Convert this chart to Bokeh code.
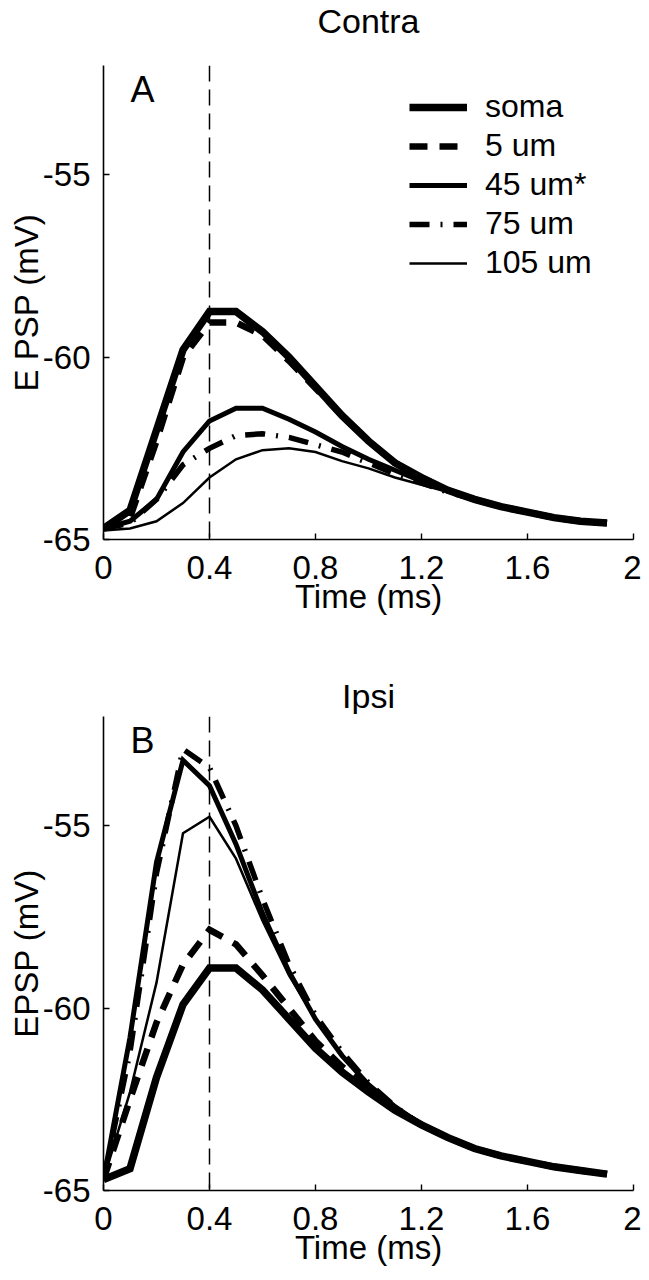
from bokeh.plotting import figure
from bokeh.models import Span, Legend, LegendItem, Label, FixedTicker, Range1d
from bokeh.core.properties import value
from bokeh.layouts import column
from bokeh.embed import file_html
from bokeh.resources import INLINE

FONT = "Liberation Sans"

t = [0.0, 0.1, 0.2, 0.3, 0.4, 0.5, 0.6, 0.7, 0.8, 0.9,
     1.0, 1.1, 1.2, 1.3, 1.4, 1.5, 1.6, 1.7, 1.8, 1.9]

labels = ["soma", "5 um", "45 um*", "75 um", "105 um"]

# Panel A (Contra)
somaA = [-64.7, -64.2, -62.0, -59.8, -58.75, -58.75, -59.3, -60.0, -60.8, -61.6,
         -62.3, -62.9, -63.3, -63.65, -63.9, -64.1, -64.25, -64.4, -64.5, -64.55]
um5A = [-64.7, -64.4, -62.3, -60.0, -59.05, -59.05, -59.4, -60.1, -60.85, -61.6,
        -62.3, -62.9, -63.3, -63.65, -63.9, -64.1, -64.25, -64.4, -64.5, -64.55]
um45A = [-64.7, -64.5, -63.9, -62.6, -61.75, -61.4, -61.4, -61.7, -62.05, -62.45,
         -62.8, -63.1, -63.4, -63.65, -63.9, -64.1, -64.25, -64.4, -64.5, -64.55]
um75A = [-64.7, -64.55, -63.9, -62.95, -62.5, -62.15, -62.1, -62.2, -62.4, -62.6,
         -62.9, -63.2, -63.45, -63.7, -63.9, -64.1, -64.25, -64.4, -64.5, -64.55]
um105A = [-64.75, -64.7, -64.5, -64.0, -63.3, -62.8, -62.55, -62.5, -62.6, -62.85,
          -63.05, -63.3, -63.5, -63.7, -63.9, -64.1, -64.25, -64.4, -64.5, -64.55]

# Panel B (Ipsi)
somaB = [-64.7, -64.4, -61.9, -59.9, -58.9, -58.9, -59.5, -60.3, -61.1, -61.75,
         -62.3, -62.8, -63.2, -63.55, -63.85, -64.05, -64.2, -64.35, -64.45, -64.55]
um5B = [-64.7, -62.5, -60.4, -58.8, -57.85, -58.25, -59.1, -60.0, -60.9, -61.6,
        -62.2, -62.75, -63.2, -63.55, -63.85, -64.05, -64.2, -64.35, -64.45, -64.55]
um45B = [-64.7, -60.8, -56.0, -53.2, -53.9, -55.5, -57.4, -59.0, -60.3, -61.3,
         -62.1, -62.7, -63.2, -63.55, -63.85, -64.05, -64.2, -64.35, -64.45, -64.55]
um75B = [-64.7, -61.2, -56.3, -52.9, -53.4, -55.0, -57.0, -58.8, -60.2, -61.2,
         -62.05, -62.7, -63.2, -63.55, -63.85, -64.05, -64.2, -64.35, -64.45, -64.55]
um105B = [-64.7, -62.3, -59.3, -55.2, -54.75, -55.9, -57.6, -59.1, -60.3, -61.3,
          -62.1, -62.7, -63.2, -63.55, -63.85, -64.05, -64.2, -64.35, -64.45, -64.55]

x_ticks = [0, 0.4, 0.8, 1.2, 1.6, 2]
x_tick_labels = {0: "0", 0.4: "0.4", 0.8: "0.8", 1.2: "1.2", 1.6: "1.6", 2: "2"}
y_ticks = [-65, -60, -55]
y_tick_labels = {-65: "-65", -60: "-60", -55: "-55"}

styles = [
    dict(line_width=7.5, line_dash="solid"),
    dict(line_width=6.5, line_dash="18 12"),
    dict(line_width=5, line_dash="solid"),
    dict(line_width=5.5, line_dash="20 11 2 11"),
    dict(line_width=2.5, line_dash="solid"),
]

FIG_W = 641
FRAME_H = 474
BOTTOM = 90
LEFT = 103
RIGHT = 8


def title_strip(text, height, y_middle):
    # strip whose plotting area lines up with the panel below; text centred on it
    p = figure(width=FIG_W, height=height, x_range=Range1d(0, 1),
               y_range=Range1d(0, height), output_backend="svg",
               toolbar_location=None, x_axis_location=None, y_axis_location=None,
               min_border_left=LEFT, min_border_right=RIGHT, min_border_top=0,
               min_border_bottom=0)
    p.outline_line_color = None
    p.xgrid.visible = False
    p.ygrid.visible = False
    p.text(x=[0.5], y=[height - y_middle], text=[text], text_font=value(FONT),
           text_font_size="34px", text_color="black", text_align="center",
           text_baseline="middle")
    return p


def make_panel(letter, ylabel, series, min_top, height, with_legend):
    p = figure(width=FIG_W, height=height, x_range=(0, 2), y_range=(-65, -52),
               output_backend="svg", toolbar_location=None,
               min_border_left=LEFT, min_border_right=RIGHT,
               min_border_top=min_top, min_border_bottom=BOTTOM)
    p.outline_line_color = None
    p.xgrid.visible = False
    p.ygrid.visible = False
    p.background_fill_color = "white"
    p.border_fill_color = "white"

    for ax in (p.xaxis[0], p.yaxis[0]):
        ax.axis_line_width = 1.6
        ax.axis_line_color = "black"
        ax.major_tick_in = 6
        ax.major_tick_out = 0
        ax.major_tick_line_width = 1.4
        ax.minor_tick_line_color = None
        ax.major_label_text_font = FONT
        ax.major_label_text_font_size = "33px"
        ax.major_label_text_color = "black"
        ax.axis_label_text_font = FONT
        ax.axis_label_text_font_size = "33px"
        ax.axis_label_text_font_style = "normal"
        ax.axis_label_text_color = "black"

    p.xaxis.ticker = FixedTicker(ticks=x_ticks)
    p.xaxis.major_label_overrides = x_tick_labels
    p.xaxis.axis_label = "Time (ms)"
    p.xaxis.major_label_standoff = 16
    p.xaxis.axis_label_standoff = -4
    p.yaxis.ticker = FixedTicker(ticks=y_ticks)
    p.yaxis.major_label_overrides = y_tick_labels
    p.yaxis.axis_label = ylabel
    p.yaxis.major_label_standoff = 13
    p.yaxis.axis_label_standoff = -5

    p.add_layout(Span(location=0.4, dimension="height", line_color="black",
                      line_width=1.5, line_dash="16 8"))

    items = []
    for lab, ys, st in zip(labels, series, styles):
        r = p.line(t, ys, line_color="black", line_join="miter", line_cap="butt", **st)
        items.append(LegendItem(label=lab, renderers=[r]))

    p.add_layout(Label(x=27, y=FRAME_H - 3, x_units="screen", y_units="screen",
                       text=letter, text_font=FONT, text_font_size="36px",
                       text_color="black", text_baseline="top"))

    if with_legend:
        leg = Legend(items=items, location=(306, 258), padding=0, margin=0,
                     glyph_width=58, glyph_height=20, label_height=20,
                     label_standoff=18, spacing=2,
                     label_text_font=FONT, label_text_font_size="32px",
                     label_text_color="black",
                     border_line_alpha=0, background_fill_alpha=0)
        p.add_layout(leg)
    return p


tA = title_strip("Contra", 40, 20)
pA = make_panel("A", "E PSP (mV)", [somaA, um5A, um45A, um75A, um105A],
                25, 25 + FRAME_H + BOTTOM, True)
tB = title_strip("Ipsi", 85, 66)
pB = make_panel("B", "EPSP (mV)", [somaB, um5B, um45B, um75B, um105B],
                2, 2 + FRAME_H + BOTTOM, False)

layout = column(tA, pA, tB, pB, spacing=0)
open("out.html", "w").write(file_html(layout, INLINE))
